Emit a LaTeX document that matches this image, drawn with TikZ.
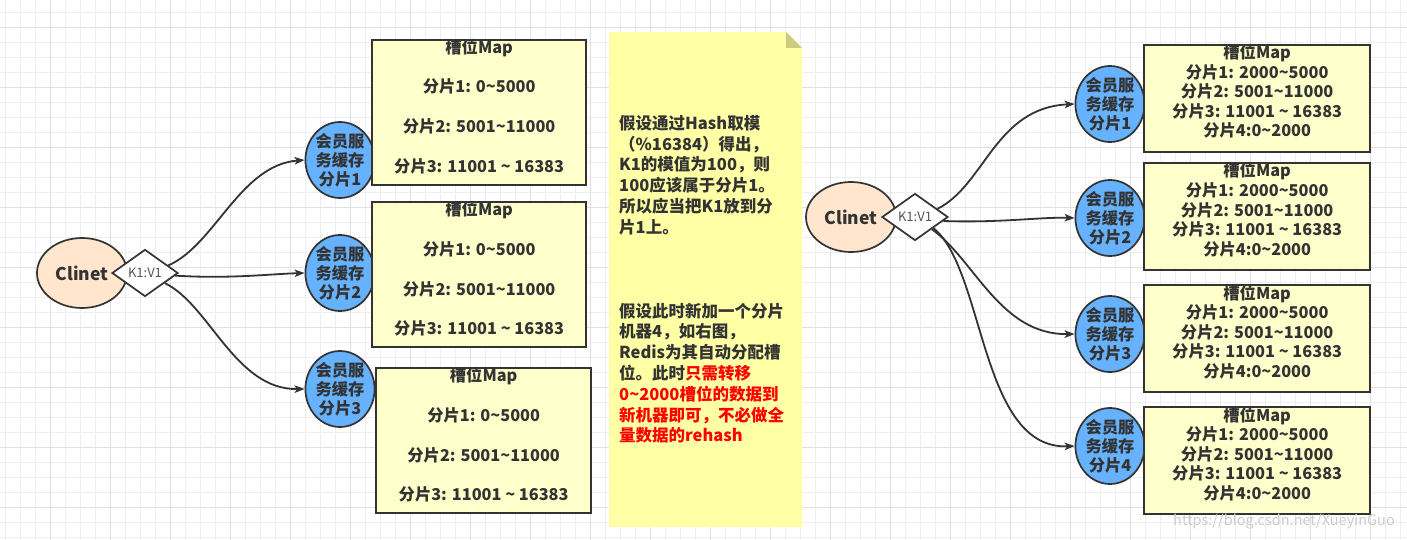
\documentclass[tikz,border=0pt]{standalone}
\usepackage{fontspec}
\setmainfont{Noto Sans CJK SC}
\usetikzlibrary{shapes.geometric,arrows.meta}
\definecolor{ink}{HTML}{333333}
\definecolor{peach}{HTML}{FFE6CC}
\definecolor{shardblue}{HTML}{66B2FF}
\definecolor{mapyellow}{HTML}{FFFFCC}
\definecolor{notey}{HTML}{FFFFA6}
\definecolor{foldc}{HTML}{CFCB7E}
\definecolor{gridminor}{HTML}{EEEEEE}
\definecolor{gridmajor}{HTML}{E0E0E0}
\definecolor{kvgray}{HTML}{555555}
\newcommand\tild{\textasciitilde}
\tikzset{
  client/.style={ellipse, draw=ink, line width=1.7pt, fill=peach, minimum width=90pt, minimum height=70pt, inner sep=0, font=\bfseries\fontsize{17.5}{20}\selectfont, text=ink},
  kv/.style={diamond, draw=ink, line width=1.7pt, fill=white, minimum width=66pt, minimum height=47pt, inner sep=0, font=\fontsize{13}{15}\selectfont, text=kvgray},
  shard/.style={ellipse, draw=ink, line width=1.7pt, fill=shardblue, minimum width=64pt, minimum height=73pt, inner sep=0, align=center, font=\bfseries\fontsize{16.3}{19}\selectfont, text=ink},
  mapbox/.style={draw=ink, line width=2.3pt, fill=mapyellow, inner sep=0, anchor=north west},
  ln/.style={font=\bfseries\fontsize{16.3}{19}\selectfont, text=ink, inner sep=0, text height=12pt, text depth=4pt},
  link/.style={draw=ink, line width=1.8pt, -{Stealth[length=10pt,width=7.5pt,inset=2.5pt]}},
}
\begin{document}
\begin{tikzpicture}[x=1pt,y=-1pt]
\useasboundingbox (0,0) rectangle (1407,540);
\fill[white] (0,0) rectangle (1407,540);
% grid
\foreach \x in {5.5,20.5,...,1407} \draw[gridminor, line width=1pt] (\x,0) -- (\x,540);
\foreach \y in {12.3,27.3,...,540} \draw[gridminor, line width=1pt] (0,\y) -- (1407,\y);
\foreach \x in {50.5,110.5,...,1407} \draw[gridmajor, line width=1pt] (\x,0) -- (\x,540);
\foreach \y in {27.3,87.3,...,540} \draw[gridmajor, line width=1pt] (0,\y) -- (1407,\y);

% ---------- left part ----------
\node[client] (lc) at (82,273) {Clinet};
\node[kv] (lk) at (145,273) {K1:V1};
\node[shard] (ls1) at (340,160) {会员服\\务缓存\\分片1};
\node[shard] (ls2) at (340,273) {会员服\\务缓存\\分片2};
\node[shard] (ls3) at (340,389) {会员服\\务缓存\\分片3};

\foreach \i/\xl/\w/\yt in {1/371/214/39, 2/371/214/201, 3/375/215/367} {
  \node[mapbox, minimum width=\w pt, minimum height=145pt] (lm\i) at (\xl,\yt) {};
  \node[ln] (lm\i a) at ([yshift=-10.5pt]lm\i.north) {槽位Map};
  \node[ln] (lm\i b) at ([yshift=-50pt]lm\i.north) {分片1: 0\tild5000};
  \node[ln] (lm\i c) at ([yshift=-90pt]lm\i.north) {分片2: 5001\tild11000};
  \node[ln] (lm\i d) at ([yshift=-129.5pt]lm\i.north) {分片3: 11001 \tild{} 16383};
}

\draw[link] (lk.18) .. controls (215,245) and (240,165) .. (ls1.west);
\draw[link] (lk.-5) .. controls (230,279) and (270,274) .. (ls2.west);
\draw[link] (lk.-27) .. controls (210,305) and (235,390) .. (ls3.west);

% ---------- note ----------
\fill[notey] (609,32) -- (786,32) -- (802,48) -- (802,527) -- (609,527) -- cycle;
\fill[foldc] (786,32) -- (786,48) -- (802,48) -- cycle;
\node[anchor=north west, align=left, inner sep=0, font=\bfseries\fontsize{16.5}{20.8}\selectfont, text=ink] (notetext) at (619,115) {%
假设通过Hash取模\\
（\%16384）得出，\\
K1的模值为100，则\\
100应该属于分片1。\\
所以应当把K1放到分\\
片1上。\\[63pt]
假设此时新加一个分片\\
机器4，如右图，\\
Redis为其自动分配槽\\
位。此时\textcolor{red}{只需转移}\\
\textcolor{red}{0\tild2000槽位的数据到}\\
\textcolor{red}{新机器即可，不必做全}\\
\textcolor{red}{量数据的rehash}};

% ---------- right part ----------
\node[client] (rc) at (851,217) {Clinet};
\node[kv] (rk) at (915,217) {K1:V1};
\foreach \i/\y in {1/104, 2/218, 3/334, 4/446} {
  \node[shard] (rs\i) at (1110,\y) {会员服\\务缓存\\分片\i};
}
\foreach \i/\yt in {1/44, 2/162, 3/284, 4/406} {
  \node[mapbox, minimum width=226pt, minimum height=107pt] (rm\i) at (1143,\yt) {};
  \node[ln] (rm\i a) at ([yshift=-11pt]rm\i.north) {槽位Map};
  \node[ln] (rm\i b) at ([yshift=-30.5pt]rm\i.north) {分片1: 2000\tild5000};
  \node[ln] (rm\i c) at ([yshift=-50pt]rm\i.north) {分片2: 5001\tild11000};
  \node[ln] (rm\i d) at ([yshift=-69.5pt]rm\i.north) {分片3: 11001 \tild{} 16383};
  \node[ln] (rm\i e) at ([yshift=-89pt]rm\i.north) {分片4:0\tild2000};
}

\draw[link] (rk.20) .. controls (985,185) and (995,108) .. (rs1.west);
\draw[link] (rk.-8) .. controls (1000,223) and (1040,217) .. (rs2.west);
\draw[link] (rk.-36) .. controls (975,260) and (1000,335) .. (rs3.west);
\draw[link] (rk.-31) .. controls (985,270) and (980,450) .. (rs4.west);

\node[anchor=west, inner sep=0, font=\fontsize{14.5}{16}\selectfont, text=gray!40] (wm) at (1173,522) {https://blog.csdn.net/XueyinGuo};
\end{tikzpicture}
\end{document}
